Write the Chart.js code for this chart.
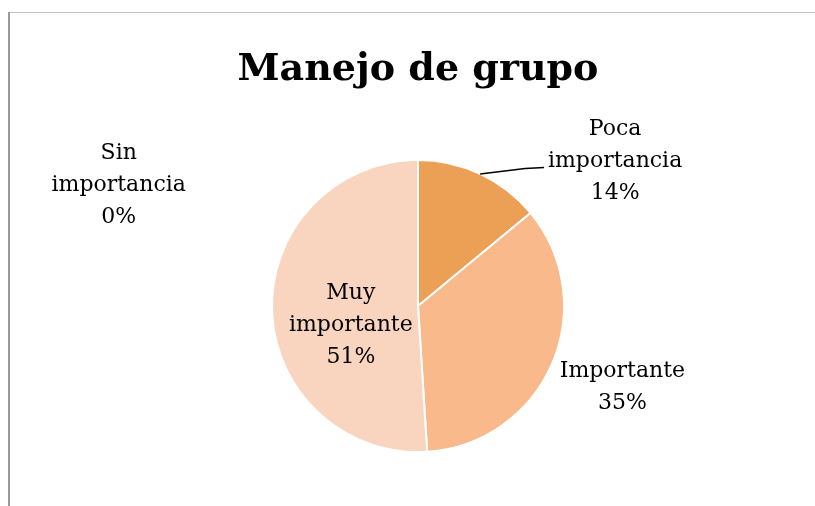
<!DOCTYPE html>
<html>
<head>
<meta charset="utf-8">
<script src="https://cdn.jsdelivr.net/npm/chart.js@4.4.1/dist/chart.umd.min.js"></script>
<style>
  html, body { margin: 0; padding: 0; background: #fff; }
  #wrap { width: 815px; height: 506px; }
</style>
</head>
<body>
<div id="wrap"><canvas id="pie" width="815" height="506"></canvas></div>
<script>
// data (percent shares)
const title = 'Manejo de grupo';
const categories = ['Sin importancia', 'Poca importancia', 'Importante', 'Muy importante'];
const labelLines = [['Sin', 'importancia'], ['Poca', 'importancia'], ['Importante'], ['Muy', 'importante']];
const shares = [0, 14, 35, 51];
const colors = ['#A5A5A5', '#EBA055', '#F9B98A', '#F9D4BF'];

// where each label sits, in pie radii from the centre
const labelPos = [[-2.05, -0.83], [1.35, -0.99], [1.40, 0.56], [-0.46, 0.13]];
const leader = [false, true, false, false];

const serif = '"DejaVu Serif", "Liberation Serif", serif';

const labelsPlugin = {
  id: 'labelsPlugin',
  beforeDraw(chart) {
    const ctx = chart.ctx;
    ctx.save();
    ctx.fillStyle = '#fff';
    ctx.fillRect(0, 0, chart.width, chart.height);
    // frame lines
    ctx.fillStyle = '#c4c4c4';
    ctx.fillRect(9, 12, chart.width - 9, 1);
    ctx.fillStyle = '#9a9a9a';
    ctx.fillRect(8, 12, 2, chart.height - 12);
    ctx.restore();
  },
  afterDraw(chart) {
    const ctx = chart.ctx;
    const meta = chart.getDatasetMeta(0);
    const total = shares.reduce((a, b) => a + b, 0);
    ctx.save();
    ctx.fillStyle = '#000';
    ctx.textAlign = 'center';
    ctx.textBaseline = 'middle';
    ctx.font = 'bold 38px ' + serif;
    ctx.fillText(title, (chart.chartArea.left + chart.chartArea.right) / 2, 70);

    ctx.font = '22px ' + serif;
    meta.data.forEach((arc, i) => {
      const p = arc.getProps(['x', 'y', 'startAngle', 'endAngle', 'outerRadius'], true);
      const r = p.outerRadius;
      const cx = p.x + labelPos[i][0] * r;
      const cy = p.y + labelPos[i][1] * r;
      const lines = labelLines[i].concat([Math.round(shares[i] / total * 100) + '%']);
      const lh = 32;
      lines.forEach((t, k) => {
        ctx.fillText(t, cx, cy + (k - (lines.length - 1) / 2) * lh);
      });
      if (leader[i]) {
        const mid = (p.startAngle + p.endAngle) / 2;
        const ex = p.x + Math.cos(mid) * r;
        const ey = p.y + Math.sin(mid) * r;
        const lx = cx - 71, ly = cy + 6;
        ctx.strokeStyle = '#000';
        ctx.lineWidth = 1.5;
        ctx.beginPath();
        ctx.moveTo(lx, ly);
        ctx.lineTo(lx - 19, ly + 1);
        ctx.lineTo(ex, ey);
        ctx.stroke();
      }
    });
    ctx.restore();
  }
};

new Chart(document.getElementById('pie'), {
  type: 'pie',
  data: {
    labels: categories,
    datasets: [{
      data: shares,
      backgroundColor: colors,
      borderColor: '#ffffff',
      borderWidth: 2
    }]
  },
  options: {
    responsive: false,
    animation: false,
    layout: { padding: { left: 271, right: 250, top: 159, bottom: 53 } },
    plugins: {
      legend: { display: false },
      tooltip: { enabled: false },
      title: { display: false }
    }
  },
  plugins: [labelsPlugin]
});
</script>
</body>
</html>
